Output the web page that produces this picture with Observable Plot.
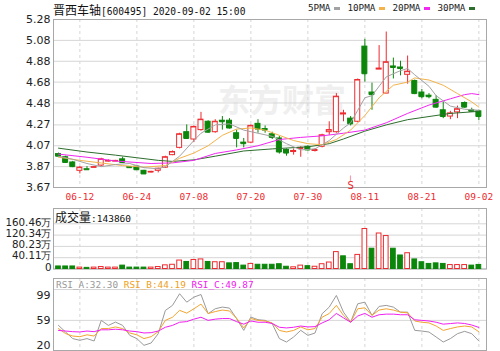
<!DOCTYPE html>
<html><head><meta charset="utf-8">
<script src="https://cdn.jsdelivr.net/npm/d3@7"></script>
<script src="https://cdn.jsdelivr.net/npm/@observablehq/plot@0.6"></script>
<style>
html,body{margin:0;padding:0;background:#fff;}
#chart{position:relative;width:500px;height:351px;overflow:hidden;background:#fff;}
#chart svg{position:absolute;left:0;}
.abs{position:absolute;white-space:nowrap;line-height:1;}
.mono{font-family:"DejaVu Sans Mono",monospace;}
.cjk{font-family:"Noto Sans CJK SC",sans-serif;}
.dash{display:inline-block;width:6px;height:3px;margin:0 7px 0 4px;vertical-align:middle;}
</style></head><body>
<div id="chart"></div>
<script>
// ---------- data ----------
const stockName = "晋西车轴";
const stockCode = "[600495] 2020-09-02 15:00";
const dates = ["06-09","06-10","06-11","06-12","06-15","06-16","06-17","06-18","06-19","06-22",
  "06-23","06-24","06-29","06-30","07-01","07-02","07-03","07-06","07-07","07-08",
  "07-09","07-10","07-13","07-14","07-15","07-16","07-17","07-20","07-21","07-22",
  "07-23","07-24","07-27","07-28","07-29","07-30","07-31","08-03","08-04","08-05",
  "08-06","08-07","08-10","08-11","08-12","08-13","08-14","08-17","08-18","08-19",
  "08-20","08-21","08-24","08-25","08-26","08-27","08-28","08-31","09-01","09-02"];
const open  = [3.99,3.96,3.91,3.83,3.845,3.86,3.88,3.92,3.92,3.94, 3.865,3.87,3.83,3.815,3.83,3.86,3.98,4.05,4.20,4.13,
  4.22,4.30,4.20,4.31,4.31,4.19,4.10,4.10,4.28,4.23, 4.18,4.14,4.03,4.01,4.04,4.06,4.02,4.06,4.20,4.20,
  4.37,4.33,4.30,5.02,4.58,4.80,4.57,4.83,4.82,4.75, 4.69,4.58,4.55,4.51,4.41,4.35,4.39,4.48,4.41,4.40];
const close = [3.97,3.91,3.87,3.86,3.84,3.865,3.94,3.925,3.925,3.91, 3.86,3.84,3.80,3.82,3.85,3.96,4.01,4.18,4.14,4.25,
  4.32,4.20,4.30,4.30,4.24,4.14,4.09,4.26,4.23,4.22, 4.15,4.01,4.00,4.02,4.05,4.03,4.03,4.17,4.22,4.54,
  4.38,4.28,4.70,4.76,4.56,4.81,4.87,4.82,4.81,4.78, 4.57,4.54,4.54,4.44,4.35,4.38,4.42,4.44,4.40,4.35];
const high  = [4.00,3.97,3.92,3.87,3.87,3.87,3.95,3.935,3.93,3.96, 3.87,3.88,3.835,3.825,3.855,3.97,4.02,4.19,4.27,4.26,
  4.39,4.31,4.32,4.35,4.33,4.22,4.14,4.27,4.32,4.26, 4.20,4.16,4.04,4.04,4.06,4.07,4.04,4.18,4.30,4.57,
  4.41,4.35,4.71,5.09,4.67,5.03,5.16,4.91,4.88,4.93, 4.70,4.61,4.57,4.55,4.49,4.40,4.45,4.49,4.43,4.41];
const low   = [3.96,3.90,3.86,3.80,3.84,3.86,3.87,3.915,3.92,3.90, 3.855,3.835,3.795,3.81,3.81,3.855,3.975,4.04,4.13,4.10,
  4.21,4.19,4.19,4.22,4.23,4.05,4.05,4.09,4.19,4.19, 4.13,3.99,3.97,3.98,3.96,4.02,4.01,4.05,4.17,4.19,
  4.30,4.26,4.29,4.68,4.41,4.80,4.57,4.71,4.74,4.66, 4.56,4.52,4.52,4.43,4.33,4.32,4.33,4.43,4.39,4.31];

// moving averages: [candle index, value]
const ma5 = [[0,3.97],[2,3.94],[4,3.90],[6,3.87],[8,3.89],[10,3.90],[12,3.86],[14,3.85],[15,3.87],[17,3.97],
  [19,4.12],[20,4.19],[22,4.27],[24,4.28],[26,4.22],[28,4.19],[30,4.16],[32,4.09],[34,4.03],[36,4.04],
  [38,4.12],[40,4.24],[41,4.29],[42,4.41],[43,4.53],[44,4.55],[46,4.73],[48,4.79],[49,4.81],[50,4.75],
  [52,4.64],[53,4.55],[55,4.45],[57,4.42],[59,4.41]];
const ma10 = [[0,3.96],[3,3.93],[6,3.905],[9,3.88],[12,3.865],[15,3.88],[17,3.95],[19,4.00],[21,4.07],[23,4.17],
  [25,4.23],[27,4.24],[29,4.22],[31,4.17],[33,4.12],[35,4.09],[37,4.08],[39,4.13],[41,4.22],[43,4.36],
  [45,4.53],[47,4.65],[49,4.68],[50,4.72],[52,4.70],[54,4.65],[56,4.57],[58,4.49],[59,4.44]];
const ma20 = [[0,3.99],[4,3.96],[8,3.924],[13,3.90],[16,3.906],[19,3.93],[22,3.996],[25,4.03],[28,4.07],[31,4.13],
  [34,4.15],[37,4.165],[40,4.19],[43,4.22],[46,4.29],[49,4.38],[52,4.46],[55,4.52],[57,4.56],[58,4.57],[59,4.56]];
const ma30 = [[0,4.047],[4,4.01],[8,3.98],[11,3.955],[14,3.93],[16,3.92],[19,3.935],[22,3.97],[26,4.02],[30,4.04],
  [35,4.06],[38,4.09],[40,4.135],[43,4.21],[46,4.27],[49,4.32],[52,4.35],[55,4.38],[59,4.40]];

// volume in 万, colour as drawn (r = up, g = down)
const volume = [9,9,9,5,4,5,7,5,5,12, 5,5,5,5,7,13,15,30,25,32,
  34,25,24,24,20,21,12,18,15,15, 15,17,8,6,12,10,8,17,23,60,
  45,17,50,142,72,126,117,72,48,56, 34,24,18,20,18,14,14,14,12,14.39];
const volDir = ("gggrgrrrrg"+"gggrrrrrgr"+"rgrrgggrgg"+"gggrrgrrrr"+"ggrrgrrggr"+"gggggrrrgg").split("");
const volLatest = 143860;

const rsiA = [52.5,43.9,35.4,33.2,35.4,32.3,59,52.5,56.8,52.5, 39.6,35.4,26.7,29.7,41.8,71.9,78.4,93.5,82.6,89.1,
  92.5,67.6,74.1,76.2,74.9,61.2,46.1,63.3,59.9,59, 54.7,35.4,31,37.5,46.1,39.6,42.6,67.6,76.2,91.3,
  69.7,56.8,80.5,82.6,65.5,77.1,78.4,76.2,69.7,69.7, 46.1,45.2,43.9,37.5,31,35.4,41.8,44.8,41.8,32.30];
const rsiB = [48.4,41.9,38.7,37.9,40.3,38.7,48.4,48.4,50.5,48.4, 42.7,40.3,35.4,37.9,44.4,59,63.1,72,68.4,74,
  80.1,67.9,70.4,72.4,71.2,61.8,49.2,61.4,59,58.2, 55.7,46,44,46,50.5,46.8,48.4,63.1,67.9,78.5,
  65.5,56.6,74,75.3,65.5,72.4,74,72.4,69.6,68.8, 58.2,56.6,55.7,51.7,46,48.4,50.5,51.7,50.5,44.19];
const rsiC = [46,45.2,44.4,44,45.2,44.4,46.8,46.8,47.6,46.8, 45.2,44.4,42.7,43.1,45.2,50.1,52.5,56.6,57.4,60.6,
  63.1,59,60.6,61.4,61.4,57.4,54.1,58.2,56.6,56.6, 55,50.1,49.2,50.1,51.7,50.5,50.9,55.7,59.8,68,
  62.3,56.6,64.7,68,63.1,66.3,67.1,67.1,66.3,66.3, 59.8,59,58.2,56.6,54.1,54.9,55.7,55,53,49.87];

const priceTicks = [3.67,3.87,4.07,4.27,4.48,4.68,4.88,5.08,5.28];
const volTicks = [0,40.11,80.23,120.34,160.46];
const rsiTicks = [20,59,99];
const xTickLabels = ["06-12","06-24","07-08","07-20","07-30","08-11","08-21","09-02"];
const eventDate = "08-07";
const maNames = ["5PMA","10PMA","20PMA","30PMA"];

// ---------- style ----------
const RED = "#ee2a2f", GREEN = "#0b860b", GRID = "#d6d6d6", FRAME = "#a8a8a8";
const C5 = "#a2a2a2", C10 = "#f3b34a", C20 = "#f028f0", C30 = "#2d6e2d";
const maColors = [C5, C10, C20, C30];
const xDomain = [-0.7, 60.07];
const xTickIdx = xTickLabels.map(d => dates.indexOf(d));
const HW = 0.35;
const candles = dates.map((d, i) => ({i, o: open[i], c: close[i], h: high[i], l: low[i], up: close[i] >= open[i]}));
const vols = dates.map((d, i) => ({i, v: volume[i], up: volDir[i] === "r"}));
const common = {width: 500, marginLeft: 53, marginRight: 14,
  style: {background: "transparent", overflow: "visible"}, color: {type: "identity"}};
const axisFont = {fontFamily: "DejaVu Sans", fontSize: 11, fill: "#222", tickSize: 0, label: null};

const chart = document.getElementById("chart");
const add = (html, cls, left, top, extra = "") => {
  const d = document.createElement("div");
  d.className = "abs " + cls; d.style.left = left + "px"; d.style.top = top + "px";
  if (extra) d.style.cssText += extra;
  d.innerHTML = html; chart.appendChild(d); return d;
};

// watermark (behind)
add("东方财富", "cjk", 218, 82, "font-size:32px;font-weight:bold;color:#efefef;");

// ---------- price panel ----------
const lineOf = (arr, color) => Plot.line(arr, {x: d => d[0], y: d => d[1], stroke: color, strokeWidth: 1});
const price = Plot.plot({...common, height: 207, marginTop: 19, marginBottom: 20,
  x: {domain: xDomain},
  y: {domain: [3.67, 5.28]},
  marks: [
    Plot.gridY(priceTicks, {stroke: GRID, strokeOpacity: 1}),
    Plot.gridX(xTickIdx, {stroke: GRID, strokeOpacity: 1, strokeDasharray: "3,3"}),
    Plot.frame({stroke: FRAME}),
    Plot.ruleX(candles, {x: "i", y1: "l", y2: "h", stroke: d => d.up ? RED : GREEN}),
    Plot.rect(candles, {x1: d => d.i - HW, x2: d => d.i + HW, y1: d => Math.min(d.o, d.c), y2: d => Math.max(d.o, d.c),
      fill: d => d.up ? "#fff" : GREEN, stroke: d => d.up ? RED : GREEN}),
    Plot.ruleY(candles, {x1: d => d.i - HW, x2: d => d.i + HW, y: "c", stroke: d => d.up ? RED : GREEN}),
    lineOf(ma30, C30), lineOf(ma20, C20), lineOf(ma10, C10), lineOf(ma5, C5),
    Plot.axisY(priceTicks, {...axisFont, tickPadding: 3, tickFormat: d => d.toFixed(2)}),
    Plot.axisX(xTickIdx, {tickSize: 0, tickPadding: 6, tickFormat: i => dates[i], fill: RED,
      fontFamily: "DejaVu Sans Mono", fontSize: 9.5, label: null}),
    Plot.text([dates.indexOf(eventDate)], {x: d => d, text: () => "S", frameAnchor: "bottom", lineAnchor: "bottom",
      dy: 1, fill: RED, fontSize: 10, fontFamily: "DejaVu Sans"}),
    Plot.text([dates.indexOf(eventDate)], {x: d => d, text: () => "|", frameAnchor: "bottom", lineAnchor: "bottom",
      dy: -8, fill: RED, fontSize: 6, fontFamily: "DejaVu Sans"})
  ]
});
price.style.top = "0px";
chart.appendChild(price);

// ---------- volume panel ----------
const vol = Plot.plot({...common, height: 72, marginTop: 8, marginBottom: 3.5,
  x: {domain: xDomain, axis: null},
  y: {domain: [0, 160.46], range: [68.5, 23.3]},
  marks: [
    Plot.gridY(volTicks, {stroke: GRID, strokeOpacity: 1}),
    Plot.gridX(xTickIdx, {stroke: GRID, strokeOpacity: 1, strokeDasharray: "3,3"}),
    Plot.frame({stroke: FRAME}),
    Plot.rect(vols, {x1: d => d.i - 0.33, x2: d => d.i + 0.33, y1: 0, y2: "v",
      fill: d => d.up ? "#fff" : GREEN, stroke: d => d.up ? RED : GREEN}),
    Plot.axisY(volTicks, {...axisFont, fontSize: 10.3, tickPadding: 2, dy: -1.5,
      tickFormat: d => d === 0 ? "0" : d.toFixed(2) + "万"})
  ]
});
vol.style.top = "200px";
chart.appendChild(vol);

// ---------- RSI panel ----------
const rsiLine = (arr, color) => Plot.line(arr, {x: (d, i) => i, y: d => d, stroke: color, strokeWidth: 1});
const rsi = Plot.plot({...common, height: 79, marginTop: 6, marginBottom: 1,
  x: {domain: xDomain, axis: null},
  y: {domain: [20, 99], range: [78, 17]},
  marks: [
    Plot.gridY([59, 99], {stroke: GRID, strokeOpacity: 1}),
    Plot.gridX(xTickIdx, {stroke: GRID, strokeOpacity: 1, strokeDasharray: "3,3"}),
    Plot.frame({stroke: FRAME}),
    rsiLine(rsiA, "#9a9a9a"), rsiLine(rsiB, "#f2a531"), rsiLine(rsiC, "#f020f0"),
    Plot.axisY([rsiTicks[2]], {...axisFont, tickPadding: 3, dy: 6}),
    Plot.axisY([rsiTicks[1]], {...axisFont, tickPadding: 3}),
    Plot.axisY([rsiTicks[0]], {...axisFont, tickPadding: 3, dy: -5})
  ]
});
rsi.style.top = "272px";
chart.appendChild(rsi);

// ---------- text overlays ----------
add(`<span class="cjk" style="font-size:12px">${stockName}</span><span class="mono" style="font-size:9.6px">${stockCode}</span>`,
  "", 53, 2, "color:#111;");
add(maNames.map((n, k) => `<span>${n}</span><span class="dash" style="background:${maColors[k]}"></span>`).join(""),
  "mono", 308, 3, "font-size:9.3px;color:#222;");
add(`<span class="cjk" style="font-size:12px">成交量</span><span class="mono" style="font-size:9.5px">:${volLatest}</span>`,
  "", 55, 209, "color:#111;");
const fmt = v => v.toFixed(2);
add(`<span style="color:#999">RSI_A:${fmt(rsiA[59])}</span> <span style="color:#f0a020">RSI_B:${fmt(rsiB[59])}</span> <span style="color:#f020f0">RSI_C:${fmt(rsiC[59])}</span>`,
  "mono", 56, 280, "font-size:9.4px;");
</script>
</body></html>
